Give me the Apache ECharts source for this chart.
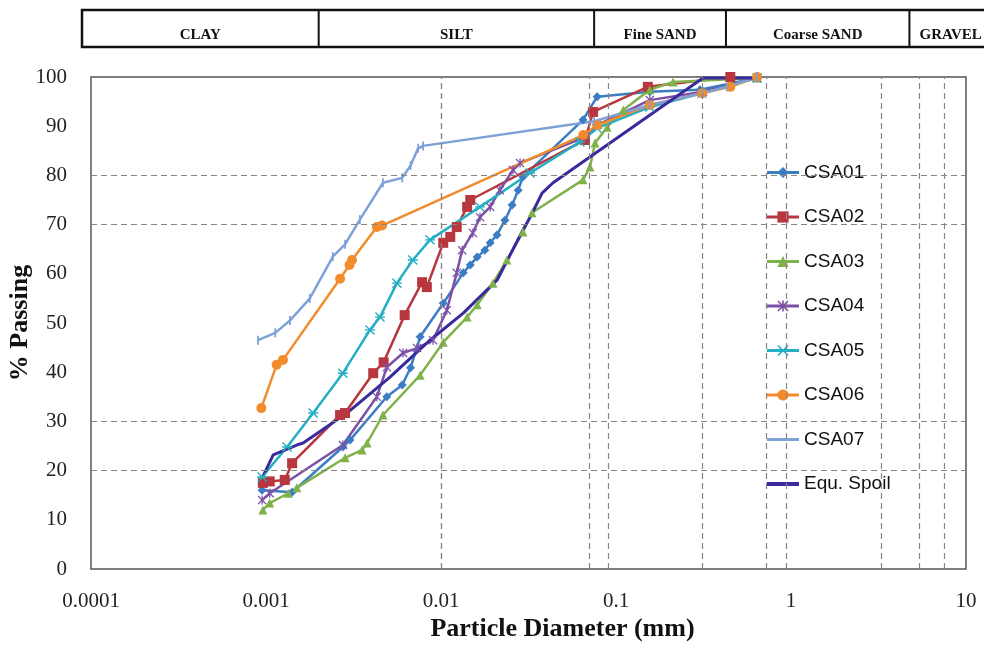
<!DOCTYPE html>
<html>
<head>
<meta charset="utf-8">
<script src="https://cdn.jsdelivr.net/npm/echarts@6/dist/echarts.min.js"></script>
<style>
  html, body { margin: 0; padding: 0; background: #fff; }
  #main { width: 984px; height: 646px; }
</style>
</head>
<body>
<div id="main"></div>
<script>
// particle size distribution: [diameter mm, % passing]
const csa01 = [[0.00095, 16], [0.00141, 15.6], [0.00275, 24.8], [0.00302, 26.2], [0.0049, 35], [0.006, 37.4], [0.0067, 40.9], [0.0076, 47.2], [0.0103, 54], [0.0134, 60.2], [0.0147, 61.8], [0.0161, 63.4], [0.0178, 64.8], [0.0191, 66.3], [0.0209, 67.9], [0.0232, 70.9], [0.0255, 74], [0.0276, 77], [0.0294, 79.7], [0.0648, 91.3], [0.078, 96], [0.156, 97], [0.302, 97.4], [0.64, 99.8]]
const csa02 = [[0.00096, 17.5], [0.00105, 17.8], [0.00128, 18.1], [0.00141, 21.5], [0.00265, 31.3], [0.00283, 31.7], [0.0041, 39.8], [0.0047, 42], [0.0062, 51.6], [0.0078, 58.3], [0.0083, 57.3], [0.0103, 66.3], [0.0113, 67.5], [0.0123, 69.5], [0.0141, 73.6], [0.0147, 75], [0.0665, 87.2], [0.074, 92.9], [0.152, 98], [0.45, 100]]
const csa03 = [[0.00096, 12], [0.00105, 13.4], [0.00134, 15.4], [0.0015, 16.5], [0.00283, 22.6], [0.00354, 24.2], [0.00378, 25.6], [0.00466, 31.3], [0.0076, 39.4], [0.0103, 46.1], [0.0141, 51.2], [0.0161, 53.7], [0.0198, 58.1], [0.0238, 62.8], [0.0294, 68.5], [0.0331, 72.4], [0.0648, 79.1], [0.071, 81.7], [0.0759, 86.6], [0.089, 89.8], [0.11, 93.3], [0.156, 97.4], [0.212, 99], [0.64, 99.8]]
const csa04 = [[0.00095, 14], [0.00105, 15.4], [0.00275, 25.2], [0.0043, 35], [0.0049, 41], [0.00607, 43.9], [0.0073, 44.9], [0.009, 46.5], [0.0108, 52.6], [0.0123, 60.2], [0.0132, 64.8], [0.0152, 68.3], [0.0167, 71.5], [0.0191, 73.6], [0.0217, 77], [0.0258, 81.1], [0.0283, 82.5], [0.0665, 87.8], [0.078, 90.2], [0.156, 95.3], [0.314, 97], [0.64, 99.8]]
const csa05 = [[0.00095, 18.7], [0.00132, 24.8], [0.00186, 31.7], [0.00275, 39.8], [0.00393, 48.6], [0.00448, 51.2], [0.0056, 58.1], [0.0069, 62.8], [0.00865, 66.9], [0.0167, 73.6], [0.0323, 80.5], [0.0622, 86.8], [0.078, 89.6], [0.156, 93.9], [0.31, 96.7], [0.64, 99.8]]
const csa06 = [[0.00094, 32.7], [0.00115, 41.5], [0.00125, 42.5], [0.00265, 59], [0.003, 61.8], [0.0031, 62.8], [0.0043, 69.5], [0.0046, 69.8], [0.065, 88.2], [0.078, 90.2], [0.156, 94.3], [0.31, 96.7], [0.45, 98], [0.64, 100]]
const csa07 = [[0.0009, 46.5], [0.00113, 48], [0.00137, 50.5], [0.00178, 55], [0.00241, 63.5], [0.00283, 66], [0.00344, 71], [0.00466, 78.5], [0.006, 79.5], [0.0067, 82], [0.0074, 85.5], [0.0079, 86], [0.075, 91], [0.156, 94.3], [0.31, 96.7], [0.43, 98], [0.64, 100]]
const equSpoil = [[0.00091, 17.1], [0.0011, 23.2], [0.0015, 25.2], [0.00163, 25.6], [0.0029, 31.7], [0.00511, 39], [0.00865, 46.5], [0.0134, 52], [0.0209, 58.7], [0.0294, 68.9], [0.0323, 71.5], [0.0378, 76.4], [0.0437, 78.5], [0.314, 99.8], [0.64, 99.8]]

const xTickLabels = ['0.0001', '0.001', '0.01', '0.1', '1', '10']
const gridX = [0.0007, 0.0072, 0.009, 0.072, 0.087, 0.31, 0.72, 0.94, 3.3, 5.4, 7.5]
const gridY = [20, 30, 70, 80]
const zoneNames = ['CLAY', 'SILT', 'Fine SAND', 'Coarse SAND', 'GRAVEL']
const zoneBounds = [0.002, 0.075, 0.425, 4.75]

const serif = 'Liberation Serif'
const sans = 'Liberation Sans'

const X_SHAPE = 'M1,0L5,4L9,0L10,1L6,5L10,9L9,10L5,6L1,10L0,9L4,5L0,1Z'
const sym04 = 'path://' + X_SHAPE + 'M4.3,0L5.7,0L5.7,10L4.3,10Z'
const sym05 = 'path://' + X_SHAPE + 'M0,4.3L10,4.3L10,5.7L0,5.7Z'
const sym07 = 'path://M4,0L6,0L6,10L4,10Z'

function mk (name, data, color, symbol, size, width) {
  return {
    name: name,
    type: 'line',
    data: data,
    color: color,
    symbol: symbol,
    symbolSize: size,
    symbolKeepAspect: true,
    showSymbol: symbol !== 'none',
    lineStyle: { width: width || 2.5, color: color },
    itemStyle: { color: color },
    z: 3
  }
}

const chart = echarts.init(document.getElementById('main'))

chart.setOption({
  animation: false,
  backgroundColor: '#fff',
  grid: {
    left: 91, right: 18, top: 77, bottom: 77,
    outerBoundsMode: 'none',
    containLabel: false,
    show: true, borderColor: '#555', borderWidth: 1.5
  },
  xAxis: {
    type: 'log',
    logBase: 10,
    min: 0.0001,
    max: 10,
    name: 'Particle Diameter (mm)',
    nameLocation: 'middle',
    nameGap: 47,
    nameMoveOverlap: false,
    nameTextStyle: { fontFamily: serif, fontWeight: 'bold', fontSize: 26, color: '#111', padding: [0, 0, 0, 68] },
    axisLine: { show: false },
    axisTick: { show: false },
    splitLine: { show: false },
    axisLabel: {
      fontFamily: serif, fontSize: 21, color: '#222', margin: 22,
      formatter: v => xTickLabels[Math.round(Math.log10(v)) + 4]
    }
  },
  yAxis: {
    type: 'value',
    min: 0,
    max: 100,
    interval: 10,
    name: '% Passing',
    nameLocation: 'middle',
    nameGap: 58,
    nameMoveOverlap: false,
    nameTextStyle: { fontFamily: serif, fontWeight: 'bold', fontSize: 26, color: '#111' },
    axisLine: { show: false },
    axisTick: { show: false },
    splitLine: { show: false },
    axisLabel: { fontFamily: serif, fontSize: 21, color: '#222', margin: 24 }
  },
  legend: {
    orient: 'vertical',
    left: 745,
    top: 153,
    padding: [10, 40, 10, 20],
    backgroundColor: '#fff',
    itemWidth: 32,
    itemHeight: 14,
    itemGap: 25.5,
    lineStyle: { width: 3 },
    textStyle: { fontFamily: sans, fontSize: 19, color: '#111' },
    data: ['CSA01', 'CSA02', 'CSA03', 'CSA04', 'CSA05', 'CSA06',
      { name: 'CSA07', itemStyle: { opacity: 0 } },
      { name: 'Equ. Spoil', itemStyle: { opacity: 0 }, lineStyle: { width: 4 } }]
  },
  series: [
    {
      name: 'grid',
      type: 'line',
      data: [],
      silent: true,
      z: 1,
      markLine: {
        silent: true,
        symbol: 'none',
        label: { show: false },
        lineStyle: { type: [6, 4], color: '#8c8480', width: 1.2 },
        data: gridX.map(v => ({ xAxis: v })).concat(gridY.map(v => ({ yAxis: v })))
      }
    },
    mk('CSA01', csa01, '#3b7dc4', 'diamond', 9),
    mk('CSA02', csa02, '#b8373e', 'rect', 10),
    mk('CSA03', csa03, '#7fb24a', 'triangle', 9),
    mk('CSA04', csa04, '#7b50a6', sym04, 9),
    mk('CSA05', csa05, '#24afc4', sym05, 10),
    mk('CSA06', csa06, '#f28b2c', 'circle', 10),
    mk('CSA07', csa07, '#7ea1d8', sym07, 9),
    mk('Equ. Spoil', equSpoil, '#3a2a9c', 'none', 0, 3)
  ]
})

// soil classification band above the plot
const px = v => chart.convertToPixel({ xAxisIndex: 0 }, v)
const edges = [82].concat(zoneBounds.map(px)).concat([992])
const bandTop = 10
const bandBottom = 47
const band = [{
  type: 'rect',
  shape: { x: edges[0], y: bandTop, width: edges[edges.length - 1] - edges[0], height: bandBottom - bandTop },
  style: { fill: '#fff', stroke: '#111', lineWidth: 2.5 }
}]
zoneBounds.forEach(b => {
  const x = px(b)
  band.push({ type: 'line', shape: { x1: x, y1: bandTop, x2: x, y2: bandBottom }, style: { stroke: '#111', lineWidth: 2 } })
})
zoneNames.forEach((n, i) => {
  band.push({
    type: 'text',
    x: (edges[i] + edges[i + 1]) / 2,
    y: 35,
    style: { text: n, fontFamily: serif, fontWeight: 'bold', fontSize: 15, fill: '#111', align: 'center', verticalAlign: 'middle' }
  })
})
chart.setOption({ graphic: band })
</script>
</body>
</html>
